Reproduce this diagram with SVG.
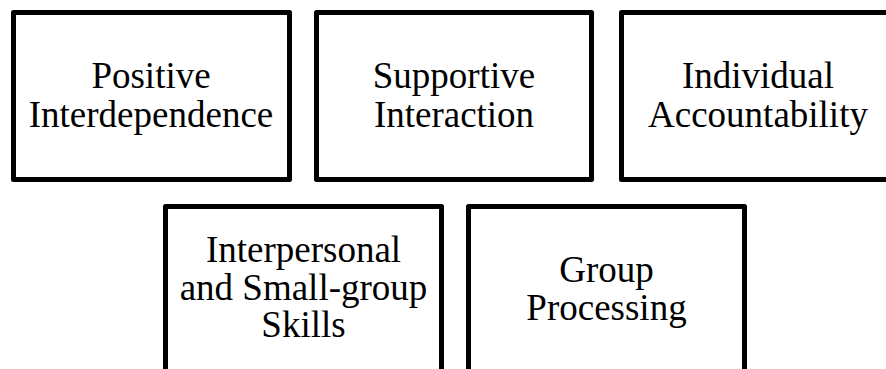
<svg xmlns="http://www.w3.org/2000/svg" width="886" height="369" viewBox="0 0 886 369">
  <style>
    .box { fill: #ffffff; stroke: #000000; stroke-width: 5; stroke-linejoin: round; }
    .label { font-family: "Liberation Serif", "Times New Roman", serif; font-size: 37px; fill: #000000; text-anchor: middle; }
  </style>
  <rect width="886" height="369" fill="#ffffff"/>

  <!-- top row -->
  <g id="positive-interdependence">
    <rect class="box" x="13.5" y="12.5" width="276" height="167"/>
    <text class="label" x="151" y="88">Positive</text>
    <text class="label" x="151" y="127">Interdependence</text>
  </g>
  <g id="supportive-interaction">
    <rect class="box" x="316.5" y="12.5" width="275" height="167"/>
    <text class="label" x="454" y="88">Supportive</text>
    <text class="label" x="454" y="127">Interaction</text>
  </g>
  <g id="individual-accountability">
    <rect class="box" x="621.5" y="12.5" width="273" height="167"/>
    <text class="label" x="758" y="88">Individual</text>
    <text class="label" x="758" y="127">Accountability</text>
  </g>

  <!-- bottom row -->
  <g id="interpersonal-skills">
    <rect class="box" x="165.5" y="206.5" width="276" height="200"/>
    <text class="label" x="303.5" y="262">Interpersonal</text>
    <text class="label" x="303.5" y="300">and Small-group</text>
    <text class="label" x="303.5" y="337">Skills</text>
  </g>
  <g id="group-processing">
    <rect class="box" x="468.5" y="206.5" width="276" height="200"/>
    <text class="label" x="606.5" y="282">Group</text>
    <text class="label" x="606.5" y="320">Processing</text>
  </g>

  <g id="connectors"/>
</svg>
